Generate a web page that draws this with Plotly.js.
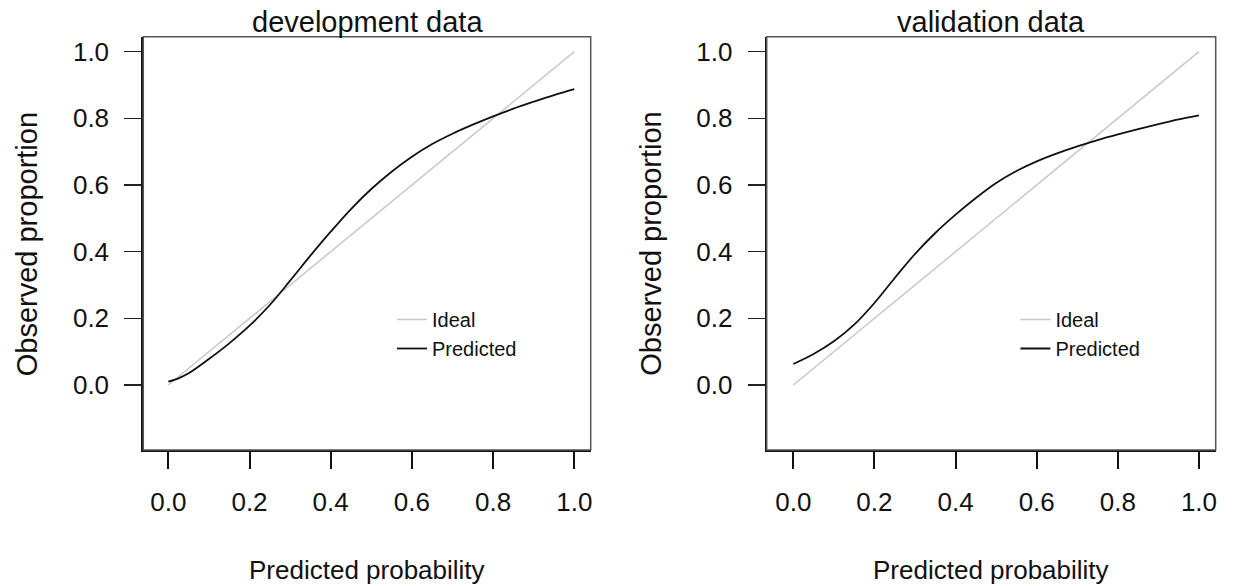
<!DOCTYPE html>
<html>
<head>
<meta charset="utf-8">
<script src="https://cdn.plot.ly/plotly-3.0.1.min.js"></script>
<style>html,body{margin:0;padding:0;background:#fff;}#chart{width:1235px;height:586px;}</style>
</head>
<body>
<div id="chart"></div>
<script>
// ---- data ----
const panelTitles = ["development data", "validation data"];
const xAxisTitle = "Predicted probability";
const yAxisTitle = "Observed proportion";
const legendNames = ["Ideal", "Predicted"];
const tickVals = [0, 0.2, 0.4, 0.6, 0.8, 1.0];
const tickLabels = ["0.0", "0.2", "0.4", "0.6", "0.8", "1.0"];

const idealX = [0, 1];
const idealY = [0, 1];

const devX = [0, 0.025, 0.05, 0.1, 0.15, 0.2, 0.25, 0.3, 0.35, 0.4, 0.45, 0.5, 0.55, 0.6, 0.65, 0.7, 0.75, 0.8, 0.85, 0.9, 0.95, 1.0];
const devY = [0.010, 0.020, 0.035, 0.078, 0.125, 0.178, 0.240, 0.313, 0.388, 0.460, 0.528, 0.588, 0.640, 0.685, 0.723, 0.754, 0.781, 0.806, 0.829, 0.850, 0.870, 0.888];

const valX = [0, 0.05, 0.1, 0.15, 0.2, 0.25, 0.3, 0.35, 0.4, 0.45, 0.5, 0.55, 0.6, 0.65, 0.7, 0.75, 0.8, 0.85, 0.9, 0.95, 1.0];
const valY = [0.063, 0.093, 0.131, 0.181, 0.246, 0.321, 0.393, 0.456, 0.511, 0.561, 0.606, 0.642, 0.671, 0.695, 0.716, 0.735, 0.752, 0.768, 0.783, 0.797, 0.809];

// ---- layout helpers ----
const W = 1235, H = 586;
const FONT = "Liberation Sans, Arial, Helvetica, sans-serif";
const px = v => v / W;
const py = v => 1 - v / H;

const idealColor = "#c8c8c8";
const predColor = "#111111";

const traces = [
  {x: idealX, y: idealY, xaxis: "x", yaxis: "y", mode: "lines", name: legendNames[0],
   line: {color: idealColor, width: 1.5}, legend: "legend", hoverinfo: "skip"},
  {x: devX, y: devY, xaxis: "x", yaxis: "y", mode: "lines", name: legendNames[1],
   line: {color: predColor, width: 1.8, shape: "spline", smoothing: 1}, legend: "legend", hoverinfo: "skip"},
  {x: idealX, y: idealY, xaxis: "x2", yaxis: "y2", mode: "lines", name: legendNames[0],
   line: {color: idealColor, width: 1.5}, legend: "legend2", hoverinfo: "skip"},
  {x: valX, y: valY, xaxis: "x2", yaxis: "y2", mode: "lines", name: legendNames[1],
   line: {color: predColor, width: 1.8, shape: "spline", smoothing: 1}, legend: "legend2", hoverinfo: "skip"}
];

function xAx(domain, range, anchor) {
  return {
    domain: domain, range: range, anchor: anchor, showgrid: false, zeroline: false,
    showline: true, linecolor: "#111", linewidth: 2,
    ticks: "outside", ticklen: 17, tickwidth: 2, tickcolor: "#111",
    tickmode: "array", tickvals: tickVals, ticktext: tickLabels,
    ticklabelstandoff: 11,
    tickfont: {family: FONT, size: 26, color: "#111"}, fixedrange: true
  };
}
function yAx(domain, range, anchor) {
  return {
    domain: domain, range: range, anchor: anchor, showgrid: false, zeroline: false,
    showline: true, linecolor: "#111", linewidth: 2,
    ticks: "outside", ticklen: 17, tickwidth: 1.5, tickcolor: "#222",
    tickmode: "array", tickvals: tickVals, ticktext: tickLabels,
    ticklabelstandoff: 10,
    tickfont: {family: FONT, size: 26, color: "#111"}, fixedrange: true
  };
}

const yDom = [py(450), py(36.7)];
const yRange = [-0.195, 1.045];
const left0 = 143.3, right0 = 590.7, left1 = 766.7, right1 = 1215.7;

const legendCommon = {
  xanchor: "left", yanchor: "top", bgcolor: "rgba(0,0,0,0)", borderwidth: 0,
  font: {family: FONT, size: 20, color: "#111"}, tracegroupgap: 0, itemclick: false, itemdoubleclick: false
};

const annotations = [];
[[left0, right0], [left1, right1]].forEach((lr, i) => {
  const cx = (lr[0] + lr[1]) / 2;
  annotations.push({text: panelTitles[i], xref: "paper", yref: "paper", x: px(cx), y: py(22),
    xanchor: "center", yanchor: "middle", showarrow: false, font: {family: FONT, size: 29, color: "#111"}});
  annotations.push({text: xAxisTitle, xref: "paper", yref: "paper", x: px(cx), y: py(570),
    xanchor: "center", yanchor: "middle", showarrow: false, font: {family: FONT, size: 26, color: "#111"}});
  annotations.push({text: yAxisTitle, xref: "paper", yref: "paper", x: px(lr[0] - 116), y: py(244),
    xanchor: "center", yanchor: "middle", textangle: -90, showarrow: false, font: {family: FONT, size: 29, color: "#111"}});
});

const layout = {
  width: W, height: H, margin: {l: 0, r: 0, t: 0, b: 0},
  paper_bgcolor: "#fff", plot_bgcolor: "#fff", showlegend: true,
  xaxis: xAx([px(left0), px(right0)], [-0.0616, 1.0404], "y"),
  yaxis: yAx(yDom, yRange, "x"),
  xaxis2: xAx([px(left1), px(right1)], [-0.0656, 1.0412], "y2"),
  yaxis2: yAx(yDom, yRange, "x2"),
  legend: Object.assign({x: px(392), y: py(300)}, legendCommon),
  legend2: Object.assign({x: px(392 + 623.4), y: py(300)}, legendCommon),
  shapes: [
    {type: "rect", xref: "x domain", yref: "y domain", x0: 0, x1: 1, y0: 0, y1: 1, line: {color: "#555", width: 1.5}, layer: "above"},
    {type: "rect", xref: "x2 domain", yref: "y2 domain", x0: 0, x1: 1, y0: 0, y1: 1, line: {color: "#555", width: 1.5}, layer: "above"}
  ],
  annotations: annotations
};

Plotly.newPlot("chart", traces, layout, {staticPlot: true, displayModeBar: false});
</script>
</body>
</html>
